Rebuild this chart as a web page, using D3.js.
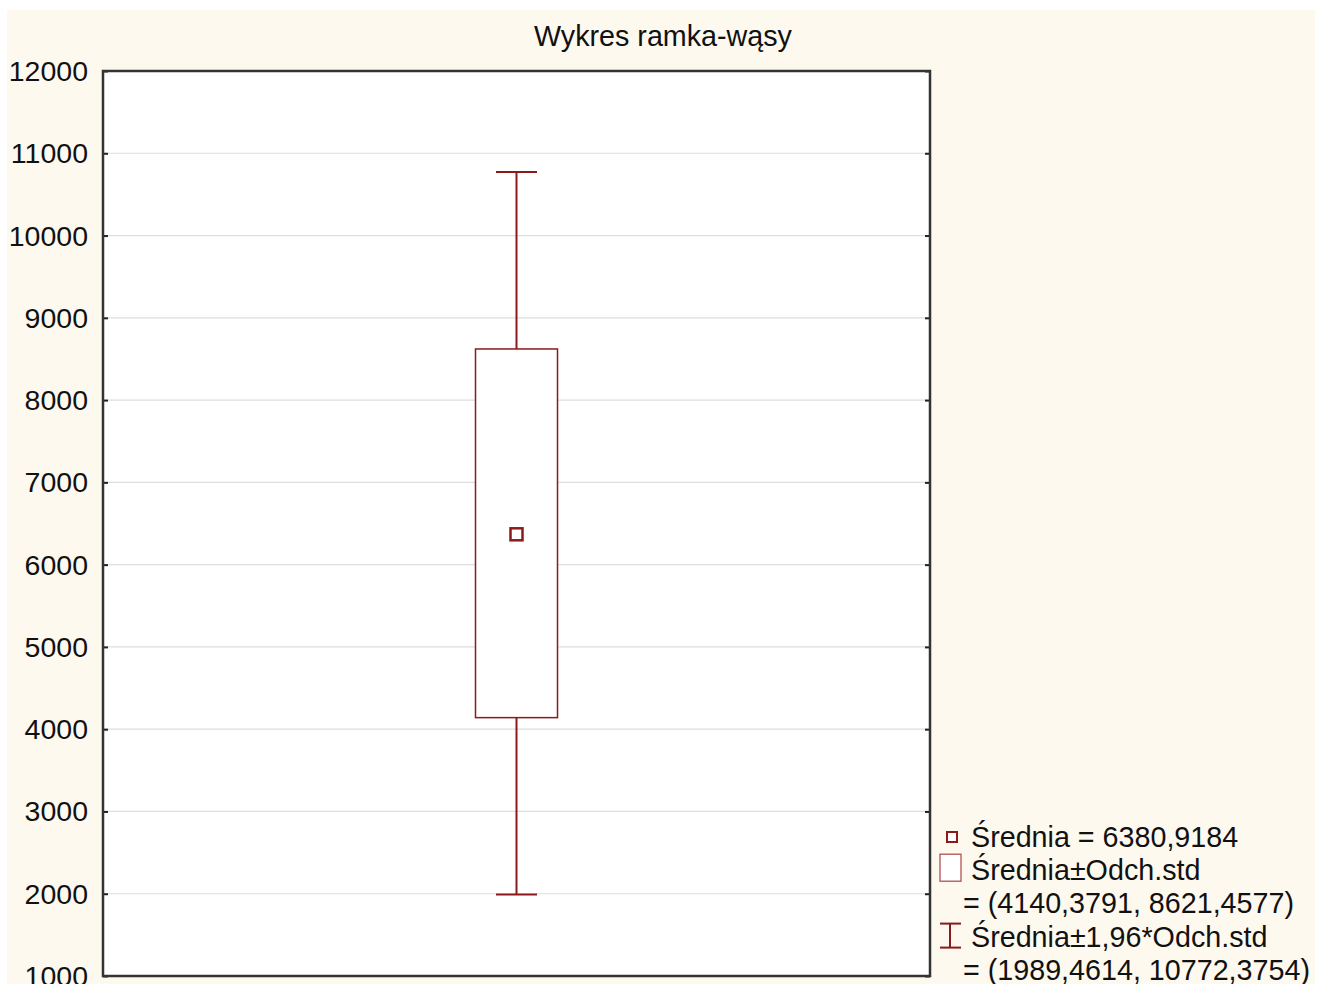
<!DOCTYPE html>
<html><head><meta charset="utf-8">
<script src="https://cdn.jsdelivr.net/npm/d3@7"></script>
<style>body{margin:0;background:#fff;} svg{display:block;font-family:"Liberation Sans",Arial,sans-serif;}</style>
</head><body>
<svg id="c" width="1326" height="984"></svg>
<script>
const title = "Wykres ramka-wąsy";
const yTicks = [1000,2000,3000,4000,5000,6000,7000,8000,9000,10000,11000,12000];
const mean = [6380.9184];
const boxRange = [4140.3791, 8621.4577];
const whiskerRange = [1989.4614, 10772.3754];
const legendLines = [
  {text:"Średnia = 6380,9184", icon:"mean"},
  {text:"Średnia±Odch.std", icon:"box"},
  {text:"= (4140,3791, 8621,4577)", icon:null},
  {text:"Średnia±1,96*Odch.std", icon:"whisker"},
  {text:"= (1989,4614, 10772,3754)", icon:null}
];

const svg = d3.select("#c");
const red = "#8b1a1a";
const L = 103, R = 930, T = 71, B = 976;
svg.append("rect").attr("x",7).attr("y",10).attr("width",1308).attr("height",980).attr("fill","#fef9ef");
svg.append("rect").attr("x",L).attr("y",T).attr("width",R-L).attr("height",B-T).attr("fill","#fff");

const y = d3.scaleLinear().domain([1000,12000]).range([B,T]);
const x = d3.scaleBand().domain(["v"]).range([L,R]).padding(0);
const cx = x("v") + x.bandwidth()/2;

// grid
svg.append("g").selectAll("line").data(yTicks.filter(d=>d>1000 && d<12000)).join("line")
  .attr("x1",L).attr("x2",R).attr("y1",d=>y(d)).attr("y2",d=>y(d))
  .attr("stroke","#dedede").attr("stroke-width",1.2);

// axes
const ax = svg.append("g").attr("transform",`translate(${L},0)`)
  .call(d3.axisRight(y).tickValues(yTicks).tickSize(5).tickFormat(""));
ax.select(".domain").remove();
ax.selectAll("line").attr("stroke","#222").attr("stroke-width",2);
const ax2 = svg.append("g").attr("transform",`translate(${R},0)`)
  .call(d3.axisLeft(y).tickValues(yTicks).tickSize(5).tickFormat(""));
ax2.select(".domain").remove();
ax2.selectAll("line").attr("stroke","#222").attr("stroke-width",2);

svg.append("g").selectAll("text").data(yTicks).join("text")
  .attr("x",88).attr("y",d=>y(d)+10).attr("text-anchor","end")
  .attr("font-size",28.5).attr("fill","#111").text(d=>d);

// frame
svg.append("rect").attr("x",L).attr("y",T).attr("width",R-L).attr("height",B-T)
  .attr("fill","none").attr("stroke","#333").attr("stroke-width",2.5);

// whiskers
const capW = 41;
svg.append("line").attr("x1",cx).attr("x2",cx).attr("y1",y(whiskerRange[1])).attr("y2",y(boxRange[1]))
  .attr("stroke",red).attr("stroke-width",2);
svg.append("line").attr("x1",cx).attr("x2",cx).attr("y1",y(boxRange[0])).attr("y2",y(whiskerRange[0]))
  .attr("stroke",red).attr("stroke-width",2);
whiskerRange.forEach(v=>{
  svg.append("line").attr("x1",cx-capW/2).attr("x2",cx+capW/2).attr("y1",y(v)).attr("y2",y(v))
    .attr("stroke",red).attr("stroke-width",2);
});
// box
const boxW = 82;
svg.append("rect").attr("x",cx-boxW/2).attr("y",y(boxRange[1])).attr("width",boxW)
  .attr("height",y(boxRange[0])-y(boxRange[1])).attr("fill","#fff").attr("stroke",red).attr("stroke-width",1.5);
// mean
svg.selectAll(".mean").data(mean).join("rect").attr("class","mean")
  .attr("x",cx-6).attr("y",d=>y(d)-5).attr("width",12).attr("height",12)
  .attr("fill","#fff").attr("stroke",red).attr("stroke-width",2.5);

// title
svg.append("text").attr("x",663).attr("y",46).attr("text-anchor","middle")
  .attr("font-size",28.7).attr("fill","#111").text(title);

// legend
const ly0 = 846, lh = 33.2;
legendLines.forEach((l,i)=>{
  const by = ly0 + i*lh;
  svg.append("text").attr("x", l.icon ? 971 : 963).attr("y",by+1)
    .attr("font-size",28.7).attr("fill","#111").text(l.text);
  if(l.icon==="mean"){
    svg.append("rect").attr("x",947).attr("y",by-14).attr("width",10).attr("height",10)
      .attr("fill","#fff").attr("stroke",red).attr("stroke-width",2);
  } else if(l.icon==="box"){
    svg.append("rect").attr("x",940).attr("y",by-25).attr("width",21).attr("height",27)
      .attr("fill","#fff").attr("stroke","#b05050").attr("stroke-width",1.3);
  } else if(l.icon==="whisker"){
    svg.append("line").attr("x1",950).attr("x2",950).attr("y1",by-22).attr("y2",by+2).attr("stroke",red).attr("stroke-width",2);
    svg.append("line").attr("x1",940).attr("x2",961).attr("y1",by-22).attr("y2",by-22).attr("stroke",red).attr("stroke-width",2);
    svg.append("line").attr("x1",940).attr("x2",961).attr("y1",by+2).attr("y2",by+2).attr("stroke",red).attr("stroke-width",2);
  }
});
</script>
</body></html>
